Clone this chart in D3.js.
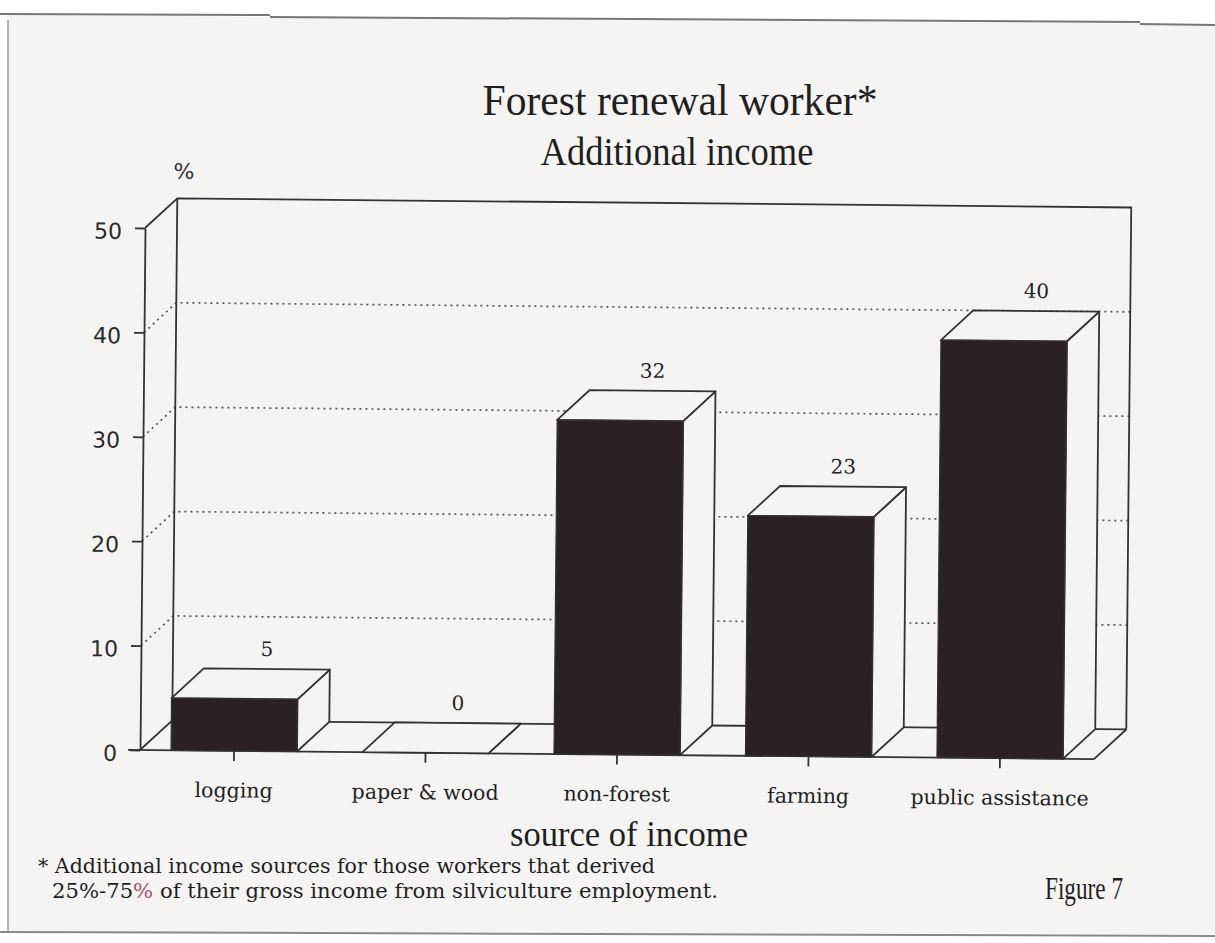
<!DOCTYPE html>
<html>
<head>
<meta charset="utf-8">
<script src="https://cdn.jsdelivr.net/npm/d3@7"></script>
<style>
  html, body { margin: 0; padding: 0; background: #ffffff; }
  svg { display: block; }
</style>
</head>
<body>
<script>
// Source of additional income for forest renewal workers (percent)
const categories = ["logging", "paper & wood", "non-forest", "farming", "public assistance"];
const values = [5, 0, 32, 23, 40];
const yTicks = [0, 10, 20, 30, 40, 50];
const gridValues = [10, 20, 30, 40];

const W = 1215, H = 943;
const paper = "#f6f4f3";
const ink = "#1f1f1f";
const lineColor = "#333333";
const barColor = "#2b2124";
const serifTimes = "'Liberation Serif', 'Times New Roman', Times, serif";

// depth of the 3-D box (offset of the back plane)
const DX = 32, DY = -30;

const svg = d3.select("body").append("svg")
  .attr("width", W).attr("height", H);

// page
svg.append("rect").attr("width", W).attr("height", H).attr("fill", "#ffffff");
svg.append("path")
  .attr("d", "M8,15 L1215,24 L1215,934 L8,932 Z")
  .attr("fill", paper);
svg.append("path").attr("d", "M0,14 L270,15 M270,17 L1140,22 M1140,24 L1215,25")
  .attr("stroke", "#777").attr("stroke-width", 2).attr("fill", "none");
svg.append("path").attr("d", "M8,20 L8,932")
  .attr("stroke", "#999").attr("stroke-width", 1.5);
svg.append("path").attr("d", "M0,932 L1215,936")
  .attr("stroke", "#888").attr("stroke-width", 2);

// titles
svg.append("text")
  .attr("x", 680).attr("y", 115)
  .attr("text-anchor", "middle")
  .attr("font-family", serifTimes)
  .attr("font-size", 44)
  .attr("textLength", 395).attr("lengthAdjust", "spacingAndGlyphs")
  .attr("fill", ink)
  .text("Forest renewal worker*");
svg.append("text")
  .attr("x", 677).attr("y", 165)
  .attr("text-anchor", "middle")
  .attr("font-family", serifTimes)
  .attr("font-size", 40)
  .attr("textLength", 273).attr("lengthAdjust", "spacingAndGlyphs")
  .attr("fill", ink)
  .text("Additional income");

svg.append("text")
  .attr("x", 184).attr("y", 179)
  .attr("text-anchor", "middle")
  .attr("font-family", "'DejaVu Sans', sans-serif")
  .attr("font-size", 22)
  .attr("fill", "#333")
  .text("%");

// scales
const x = d3.scaleBand().domain(categories)
  .range([140, 1094]).paddingInner(0.342).paddingOuter(0.162);
const y = d3.scaleLinear().domain([0, 50]).range([750, 228]);
const bw = x.bandwidth();
const [x0r, x1r] = x.range();

// plot group (slightly tilted like the printed page)
const g = svg.append("g").attr("transform", `rotate(0.55, ${x0r}, ${y(0)})`);

// dotted gridlines on side and back walls
const grid = g.append("g")
  .attr("stroke", "#555").attr("stroke-width", 1.7)
  .attr("stroke-dasharray", "2,4").attr("fill", "none");
gridValues.forEach(v => {
  grid.append("path")
    .attr("d", `M${x0r},${y(v)} L${x0r + DX},${y(v) + DY} L${x1r + DX},${y(v) + DY}`);
});

// walls and floor outline
const frame = d3.path();
frame.moveTo(x0r, y(50)); frame.lineTo(x0r + DX, y(50) + DY);
frame.lineTo(x1r + DX, y(50) + DY); frame.lineTo(x1r + DX, y(0) + DY);
frame.moveTo(x0r + DX, y(50) + DY); frame.lineTo(x0r + DX, y(0) + DY);
frame.lineTo(x1r + DX, y(0) + DY);
frame.moveTo(x0r, y(0)); frame.lineTo(x0r + DX, y(0) + DY);
frame.moveTo(x1r, y(0)); frame.lineTo(x1r + DX, y(0) + DY);
g.append("path").attr("d", frame.toString())
  .attr("stroke", lineColor).attr("stroke-width", 1.8).attr("fill", "none");

// y axis on the front plane
const yAxis = g.append("g")
  .attr("transform", `translate(${x0r},0)`)
  .call(d3.axisLeft(y).tickValues(yTicks).tickSize(10).tickSizeOuter(0).tickPadding(13));
yAxis.selectAll("path, line").attr("stroke", lineColor).attr("stroke-width", 1.8);
yAxis.selectAll("text")
  .attr("font-family", "'DejaVu Sans', sans-serif")
  .attr("font-size", 22).attr("fill", "#2a2a2a").attr("dy", "0.48em");

// x axis along the front edge of the floor
const xAxis = g.append("g")
  .attr("transform", `translate(0,${y(0)})`)
  .call(d3.axisBottom(x).tickSize(10).tickSizeOuter(0).tickPadding(22));
xAxis.select(".domain").attr("d", `M${x0r - 12},0 H${x1r}`);
xAxis.selectAll("path, line").attr("stroke", lineColor).attr("stroke-width", 1.8);
xAxis.selectAll("text")
  .attr("font-family", "'DejaVu Serif', serif")
  .attr("font-size", 20.5).attr("fill", ink);

// 3-D bars
const data = categories.map((c, i) => ({ c, v: values[i] }));
const bars = g.append("g").selectAll("g.bar").data(data).join("g").attr("class", "bar");

bars.append("path") // right side face
  .attr("d", d => {
    const xa = x(d.c) + bw, yt = y(d.v), yb = y(0);
    return `M${xa},${yt} L${xa + DX},${yt + DY} L${xa + DX},${yb + DY} L${xa},${yb} Z`;
  })
  .attr("fill", paper).attr("stroke", lineColor).attr("stroke-width", 1.8)
  .attr("stroke-linejoin", "round");

bars.append("path") // top face
  .attr("d", d => {
    const xa = x(d.c), xb = xa + bw, yt = y(d.v);
    return `M${xa},${yt} L${xa + DX},${yt + DY} L${xb + DX},${yt + DY} L${xb},${yt} Z`;
  })
  .attr("fill", paper).attr("stroke", lineColor).attr("stroke-width", 1.8)
  .attr("stroke-linejoin", "round");

bars.append("rect") // front face
  .attr("x", d => x(d.c))
  .attr("y", d => y(d.v))
  .attr("width", bw)
  .attr("height", d => y(0) - y(d.v))
  .attr("fill", barColor)
  .attr("stroke", lineColor).attr("stroke-width", 1.2);

bars.append("text") // value labels
  .attr("x", d => x(d.c) + bw / 2 + DX)
  .attr("y", d => y(d.v) + DY - 13)
  .attr("text-anchor", "middle")
  .attr("font-family", "'DejaVu Serif', serif")
  .attr("font-size", 20).attr("fill", ink)
  .text(d => d.v);

// axis title
svg.append("text")
  .attr("x", 629).attr("y", 846)
  .attr("text-anchor", "middle")
  .attr("font-family", serifTimes)
  .attr("font-size", 35)
  .attr("textLength", 238).attr("lengthAdjust", "spacingAndGlyphs")
  .attr("fill", ink)
  .text("source of income");

// footnote
const foot = svg.append("g")
  .attr("font-family", "'DejaVu Serif', serif")
  .attr("font-size", 19.5).attr("fill", ink);
foot.append("text")
  .attr("x", 38).attr("y", 873)
  .attr("textLength", 617).attr("lengthAdjust", "spacingAndGlyphs")
  .text("* Additional income sources for those workers that derived");
const f2 = foot.append("text")
  .attr("x", 52).attr("y", 898)
  .attr("textLength", 666).attr("lengthAdjust", "spacingAndGlyphs");
f2.append("tspan").text("25%-75");
f2.append("tspan").attr("fill", "#b0506a").text("%");
f2.append("tspan").text(" of their gross income from silviculture employment.");

svg.append("text")
  .attr("x", 1045).attr("y", 899)
  .attr("font-family", serifTimes)
  .attr("font-size", 32)
  .attr("textLength", 78).attr("lengthAdjust", "spacingAndGlyphs")
  .attr("fill", ink)
  .text("Figure 7");
</script>
</body>
</html>
